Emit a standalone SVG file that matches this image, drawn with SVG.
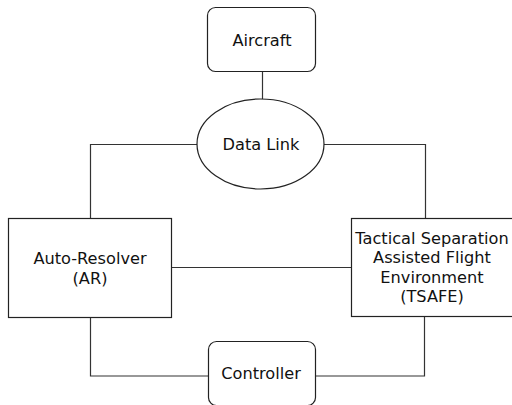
<svg xmlns="http://www.w3.org/2000/svg" width="512" height="405" viewBox="0 0 512 405">
<style>
.node{fill:#fff;stroke:#222;stroke-width:1.2}
.conn{fill:none;stroke:#333;stroke-width:1.2}
text{font-family:"DejaVu Sans",sans-serif;font-size:16.2px;fill:#111;text-anchor:middle}
</style>
<rect width="512" height="405" fill="#fff"/>
<g id="connectors">
<path class="conn" d="M262.5,72 V99"/>
<path class="conn" d="M197,144.5 H90.5 V218.5"/>
<path class="conn" d="M324,144.5 H425.5 V218.5"/>
<path class="conn" d="M171.5,267.5 H351.5"/>
<path class="conn" d="M90.5,317.5 V376 H208.5"/>
<path class="conn" d="M315.5,376 H424.5 V316.5"/>
</g>
<g id="aircraft">
<rect class="node" x="207.5" y="7.5" width="108" height="64" rx="8"/>
<text x="262" y="46">Aircraft</text>
</g>
<g id="datalink">
<ellipse class="node" cx="260.5" cy="144" rx="63.5" ry="45"/>
<text x="261" y="150">Data Link</text>
</g>
<g id="ar">
<rect class="node" x="8.5" y="218.5" width="163" height="99"/>
<text x="90" y="264">Auto-Resolver</text>
<text x="90" y="283.5">(AR)</text>
</g>
<g id="tsafe">
<rect class="node" x="351.5" y="218.5" width="163" height="98"/>
<text x="432" y="243.5">Tactical Separation</text>
<text x="432" y="263">Assisted Flight</text>
<text x="432" y="282.5">Environment</text>
<text x="432" y="302">(TSAFE)</text>
</g>
<g id="controller">
<rect class="node" x="208.5" y="341.5" width="107" height="64" rx="8"/>
<text x="261" y="379">Controller</text>
</g>
</svg>
